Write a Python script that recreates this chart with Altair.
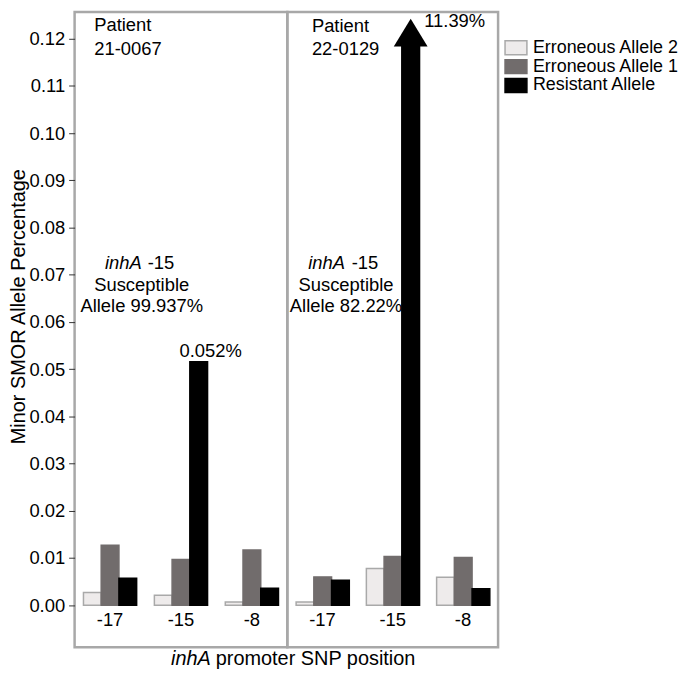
import altair as alt
import pandas as pd

# ---------------- data ----------------
positions = ["-17", "-15", "-8"]
alleles = ["Erroneous Allele 2", "Erroneous Allele 1", "Resistant Allele"]
fill_colors = ["#eeebeb", "#716c6c", "#000000"]
stroke_colors = ["#a9a9a9", "#716c6c", "#000000"]

# Patient 21-0067
p1_err2 = [0.0027, 0.0021, 0.0007]
p1_err1 = [0.0127, 0.0097, 0.0117]
p1_res = [0.0057, 0.0516, 0.0036]
p1_labels = ["", "0.052%", ""]

# Patient 22-0129
p2_err2 = [0.0007, 0.0078, 0.0059]
p2_err1 = [0.0060, 0.0103, 0.0101]
p2_res = [0.0053, 11.39, 0.0035]
p2_labels = ["", "11.39%", ""]

y_ticks = [-0.01, 0.00, 0.01, 0.02, 0.03, 0.04, 0.05, 0.06,
           0.07, 0.08, 0.09, 0.10, 0.11, 0.12]

patient_1 = "Patient\n21-0067"
patient_2 = "Patient\n22-0129"
susc_1 = "Susceptible\nAllele 99.937%"
susc_2 = "Susceptible\nAllele 82.22%"

# ---------------- layout constants ----------------
Y_DOMAIN = [-0.00889, 0.12568]
SHAFT_TOP = 0.1186      # off-scale bars are drawn as an arrow
HEAD_MID = 0.1213
HEAD_TIP = 0.1242
XLABEL_Y = -0.0043
H = 639
FS = 18.5
TFS = 20
TRI = "M-1,0.8235L0,-0.8235L1,0.8235Z"
RECT = "M-1.571,-1L1.571,-1L1.571,1L-1.571,1Z"


def long_df(e2, e1, res, labels):
    rows = []
    for i, p in enumerate(positions):
        vals = [e2[i], e1[i], res[i]]
        labs = ["", "", labels[i]]
        for a, v, lab in zip(alleles, vals, labs):
            rows.append({"pos": p, "allele": a, "value": v, "label": lab})
    return pd.DataFrame(rows)


legend = alt.Legend(
    title=None, orient="none", legendX=435, legendY=27,
    symbolType=RECT, symbolSize=196, symbolStrokeWidth=1.5,
    labelFontSize=18, labelOffset=8, rowPadding=-3, padding=0,
    labelLimit=300, labelColor="black",
)

yscale = alt.Scale(domain=Y_DOMAIN, nice=False, zero=False)

yaxis = alt.Axis(
    values=y_ticks, format=".2f",
    labelExpr="datum.value < 0 ? '' : datum.label",
    labelFontSize=FS, labelColor="black", labelPadding=4,
    tickSize=6, tickColor="#333333", tickWidth=1,
    domain=False, grid=False,
    title="Minor SMOR Allele Percentage", titleFontSize=TFS,
    titleFontWeight="normal", titleColor="black",
    titleAngle=270, titleBaseline="alphabetic", titleAlign="center",
    titleX=-50, titleY=296,
)


def text_layer(txt, x, y, align="left", style="normal", lh=None, fs=FS):
    kw = dict(align=align, baseline="alphabetic", fontSize=fs,
              fontStyle=style, color="black", lineBreak="\n")
    if lh is not None:
        kw["lineHeight"] = lh
    return alt.Chart(pd.DataFrame({"t": [txt]})).mark_text(**kw).encode(
        x=alt.value(x), y=alt.value(y), text="t:N"
    )


def panel(df, width, show_axis, patient, patient_xy, susc, inh_x, dash_x,
          susc_x, arrow_label, extra=()):
    ax = yaxis if show_axis else None
    x_enc = alt.X("pos:N", scale=alt.Scale(domain=positions, paddingInner=0.25,
                                           paddingOuter=0.125), axis=None)
    xo = alt.XOffset("allele:N", scale=alt.Scale(domain=alleles, paddingInner=0,
                                                  paddingOuter=0))
    base = alt.Chart(df).transform_calculate(
        shown=f"min(datum.value, {SHAFT_TOP})"
    )
    bars = base.mark_bar(strokeWidth=1.5).encode(
        x=x_enc, xOffset=xo,
        y=alt.Y("shown:Q", scale=yscale, axis=ax),
        fill=alt.Fill("allele:N", scale=alt.Scale(domain=alleles, range=fill_colors),
                      legend=legend),
        stroke=alt.Stroke("allele:N", scale=alt.Scale(domain=alleles, range=stroke_colors),
                          legend=legend),
    )
    head = base.transform_filter(f"datum.value > {SHAFT_TOP}").mark_point(
        shape=TRI, size=1156, filled=True, color="black", opacity=1, strokeWidth=0
    ).encode(x=x_enc, xOffset=xo, y=alt.YDatum(HEAD_MID, axis=ax, type="quantitative"))

    lab = base.transform_filter("datum.label != ''")
    if arrow_label:
        vlabel = lab.mark_text(dx=13.6, dy=8, align="left", baseline="alphabetic",
                               fontSize=FS, color="black").encode(
            x=x_enc, xOffset=xo,
            y=alt.YDatum(HEAD_TIP, axis=ax, type="quantitative"), text="label:N")
    else:
        vlabel = lab.mark_text(dx=12, dy=-5, align="center", baseline="alphabetic",
                               fontSize=FS, color="black").encode(
            x=x_enc, xOffset=xo, y=alt.Y("shown:Q", axis=ax), text="label:N")

    xlabels = alt.Chart(pd.DataFrame({"pos": positions})).mark_text(
        fontSize=FS, baseline="alphabetic", color="black"
    ).encode(x=x_enc, y=alt.YDatum(XLABEL_Y, axis=ax, type="quantitative"),
             text="pos:N")

    layers = [
        bars, head, vlabel, xlabels,
        text_layer(patient, patient_xy[0], patient_xy[1], lh=23.4),
        text_layer("inhA", inh_x, 258.7, align="right", style="italic"),
        text_layer("-15", dash_x, 258.7),
        text_layer(susc, susc_x, 280.3, align="center", lh=21.7),
    ] + list(extra)
    return alt.layer(*layers).properties(width=width, height=H)


df1 = long_df(p1_err2, p1_err1, p1_res, p1_labels)
df2 = long_df(p2_err2, p2_err1, p2_res, p2_labels)

xtitle = [
    text_layer("inhA", 137, 657, align="right", style="italic", fs=TFS),
    text_layer("promoter SNP position", 142, 657, fs=TFS),
]

p1 = panel(df1, 214, True, patient_1, (19.7, 19.5), susc_1, 67.5, 73.5, 67.5,
           False, extra=xtitle)
p2 = panel(df2, 212, False, patient_2, (24.7, 20.0), susc_2, 58, 64.7, 59,
           True)

chart = alt.hconcat(p1, p2, spacing=0, bounds="flush").properties(
    padding={"left": -1, "top": 0, "right": 0, "bottom": 0}
).configure(font="Liberation Sans").configure_view(
    stroke="#a8a8a8", strokeWidth=2.5
)

chart.save("out.html", embed_options={"renderer": "svg", "actions": False})
